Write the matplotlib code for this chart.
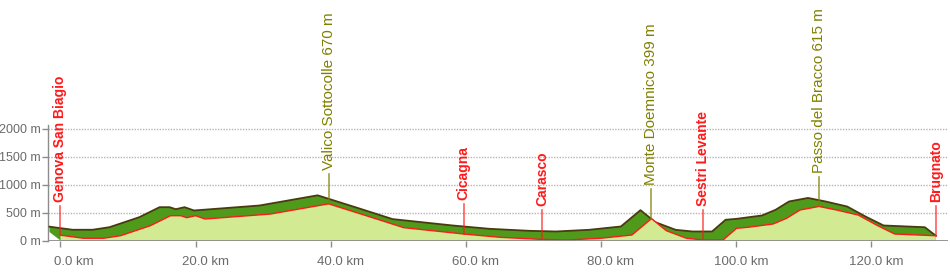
import numpy as np
import matplotlib
matplotlib.use("Agg")
import matplotlib.pyplot as plt
import matplotlib.transforms as mtransforms

plt.rcParams['font.family'] = ['Liberation Sans', 'DejaVu Sans']

# profile: distance (km) and elevation (m)
km = [0.0, 3.4, 6.4, 8.9, 13.3, 16.3, 17.8, 18.7, 20.0, 21.4, 31.1, 39.7,
      46.0, 50.8, 59.7, 65.1, 71.0, 75.0, 79.9, 84.6, 87.5, 89.7, 92.7,
      95.2, 98.1, 100.1, 101.8, 105.5, 107.5, 109.5, 112.3, 114.9, 118.1,
      120.8, 123.5, 129.6]
elev = [95, 40, 40, 86, 264, 443, 443, 407, 443, 384, 473, 655,
        415, 230, 116, 57, 21, 9, 39, 98, 390, 175, 39,
        9, 9, 218, 236, 295, 396, 545, 608, 545, 455,
        277, 116, 85]

# points of interest
poi_km = [0.0, 39.7, 59.7, 71.3, 87.5, 95.2, 112.3, 129.6]
poi_name = ["Genova San Biagio", "Valico Sottocolle 670 m", "Cicagna", "Carasco",
            "Monte Doemnico 399 m", "Sestri Levante", "Passo del Bracco 615 m", "Brugnato"]
poi_climb = [False, True, False, False, True, False, True, False]

y_ticks = [0, 500, 1000, 1500, 2000]
x_ticks = [0, 20, 40, 60, 80, 100, 120]

light = '#d2ea92'
dark = '#4f9a1b'
edge = '#4a3a10'
red = '#ff1a1a'
olive = '#808000'
grey = '#6b6b6b'

dx, dy = 1.63, 152

fig = plt.figure(figsize=(9.5, 2.72), dpi=100)
ax = fig.add_axes([47.5 / 950, 1 - 240.5 / 272, 900.5 / 950, 115.5 / 272])
ax.set_xlim(-1.92, 131.4)
ax.set_ylim(0, 2063)

x = np.array(km)
y = np.array(elev)

# dark "3d" band behind the profile
bx = np.concatenate([[x[0] - dx], x - dx, [x[-1], x[-1], x[0]]])
by = np.concatenate([[dy], y + dy, [y[-1], 0, 0]])
ax.fill(bx, by, color=dark, lw=0, zorder=2)
ax.plot(np.concatenate([x - dx, [x[-1]]]), np.concatenate([y + dy, [y[-1]]]),
        color=edge, lw=1.3, zorder=3)

# main profile
ax.fill(np.concatenate([x, [x[-1], x[0]]]), np.concatenate([y, [0, 0]]),
        color=light, lw=0, zorder=4)
ax.plot(x, y, color=red, lw=1.0, zorder=5)

# markers
for k, name, climb in zip(poi_km, poi_name, poi_climb):
    e = np.interp(k, x, y)
    col = olive if climb else red
    ax.plot([k, k], [e, e + 530], color=col, lw=1.2, alpha=0.75 if climb else 0.7,
            zorder=6, clip_on=False)
    ax.text(k, e + 600, name, rotation=90, ha='center', va='bottom',
            color=col, fontsize=11 if climb else 10,
            fontweight='normal' if climb else 'bold',
            zorder=7, clip_on=False)

# grid / axes
for v in y_ticks[1:]:
    ax.axhline(v, color='#b5b5b5', lw=1, ls=(0, (1, 1)), zorder=1)
ax.axhline(0, color='#8c8c8c', lw=2, zorder=6)

for s in ['top', 'right', 'bottom']:
    ax.spines[s].set_visible(False)
ax.spines['left'].set_color('#8c8c8c')
ax.spines['left'].set_linewidth(1)

ax.set_yticks(y_ticks)
ax.set_yticklabels([f"{v} m" for v in y_ticks])
ax.set_xticks(x_ticks)
ax.set_xticklabels([f"{v:.1f} km" for v in x_ticks])
ax.tick_params(axis='y', length=4, width=1, color='#8c8c8c', labelcolor=grey,
               labelsize=9, pad=1)
ax.tick_params(axis='x', length=4, width=1, color='#8c8c8c', labelcolor=grey,
               labelsize=9.5, pad=7)

off = mtransforms.ScaledTranslation(33 / 100, 0, fig.dpi_scale_trans)
for lab in ax.get_xticklabels():
    lab.set_horizontalalignment('right')
    lab.set_transform(lab.get_transform() + off)

fig.savefig('out.png', dpi=100)
